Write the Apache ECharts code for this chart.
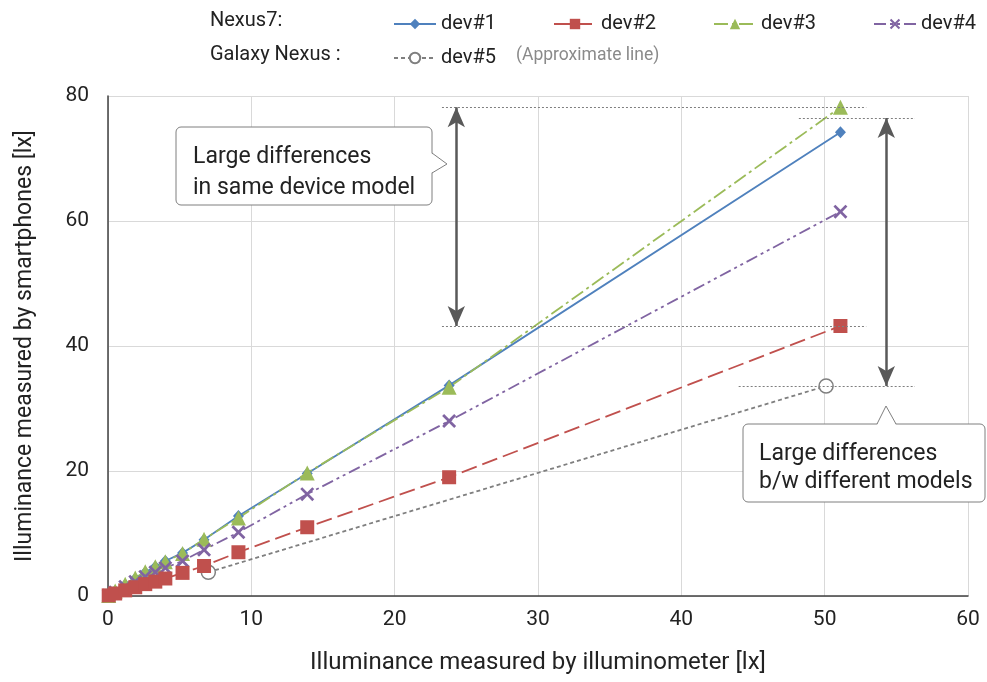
<!DOCTYPE html>
<html>
<head>
<meta charset="utf-8">
<script src="https://cdn.jsdelivr.net/npm/echarts@6/dist/echarts.min.js"></script>
<style>
  html, body { margin: 0; padding: 0; background: #fff; }
  #chart { width: 987px; height: 682px; }
</style>
</head>
<body>
<div id="chart"></div>
<script>
// Illuminometer readings [lx] shared by the Nexus7 units
const meterLux = [0.05, 0.5, 1.2, 1.9, 2.6, 3.3, 4.0, 5.2, 6.7, 9.1, 13.9, 23.8, 51.1];
// Readings reported by each Nexus7 unit [lx]
const dev1 = [0.1, 0.8, 1.8, 2.8, 3.8, 4.7, 5.6, 6.9, 9.0, 12.8, 19.6, 33.7, 74.2];
const dev2 = [0.1, 0.4, 0.9, 1.4, 1.9, 2.3, 2.8, 3.7, 4.8, 7.0, 11.0, 19.0, 43.2];
const dev3 = [0.1, 0.8, 1.9, 2.9, 3.9, 4.7, 5.5, 6.8, 9.1, 12.5, 19.7, 33.4, 78.2];
const dev4 = [0.1, 0.6, 1.5, 2.3, 3.1, 3.8, 4.5, 5.6, 7.4, 10.2, 16.3, 28.0, 61.5];
// Galaxy Nexus (approximate line)
const dev5Lux = [7.0, 50.1];
const dev5 = [3.8, 33.6];

const xTicks = { min: 0, max: 60, interval: 10 };
const yTicks = { min: 0, max: 80, interval: 20 };

const FONT = 'Roboto, "Noto Sans", sans-serif';
const pairs = (xs, ys) => xs.map((x, i) => [x, ys[i]]);

const COLORS = {
  dev1: '#4f81bd', dev2: '#c0504d', dev3: '#9bbb59', dev4: '#8064a2', dev5: '#7f7f7f'
};
const CROSS = 'path://M1.4,0 L5,3.6 L8.6,0 L10,1.4 L6.4,5 L10,8.6 L8.6,10 L5,6.4 L1.4,10 L0,8.6 L3.6,5 L0,1.4 Z';

const dotted = { color: '#7f7f7f', width: 1, type: [2, 2] };
const arrowStyle = { color: '#595959', width: 2.5, type: 'solid' };

const topSame = dev3[dev3.length - 1];
const lowSame = dev2[dev2.length - 1];
const lowModel = dev5[dev5.length - 1];
const topModel = 76.5;

function lineSeries(name, xs, ys, color, dash, symbol, size, extra) {
  return Object.assign({
    name: name,
    type: 'line',
    data: pairs(xs, ys),
    symbol: symbol,
    symbolSize: size,
    showAllSymbol: true,
    animation: false,
    lineStyle: { color: color, width: 1.8, type: dash },
    itemStyle: { color: color },
    emphasis: { disabled: true }
  }, extra || {});
}

const chart = echarts.init(document.getElementById('chart'), null, { renderer: 'canvas' });

chart.setOption({
  backgroundColor: '#fff',
  textStyle: { fontFamily: FONT },
  grid: { left: 108, right: 19, top: 96, bottom: 86 },
  legend: [
    {
      data: ['dev#1', 'dev#2', 'dev#3', 'dev#4'],
      left: 393, top: 14, padding: 0,
      itemWidth: 42, itemHeight: 13, itemGap: 57,
      textStyle: { fontSize: 20, color: '#222', fontFamily: FONT },
      selectedMode: false
    },
    {
      data: ['dev#5'],
      left: 393, top: 48, padding: 0,
      itemWidth: 42, itemHeight: 13,
      textStyle: { fontSize: 20, color: '#222', fontFamily: FONT },
      selectedMode: false
    }
  ],
  xAxis: {
    type: 'value',
    min: xTicks.min, max: xTicks.max, interval: xTicks.interval,
    name: 'Illuminance measured by illuminometer [lx]',
    nameLocation: 'middle', nameGap: 55,
    nameTextStyle: { fontSize: 24, color: '#222', fontFamily: FONT },
    axisLine: { lineStyle: { color: '#404040', width: 1.5 } },
    axisTick: { show: false },
    axisLabel: { fontSize: 21, color: '#222', margin: 13, fontFamily: FONT },
    splitLine: { show: true, lineStyle: { color: '#d9d9d9', width: 1 } }
  },
  yAxis: {
    type: 'value',
    min: yTicks.min, max: yTicks.max, interval: yTicks.interval,
    name: 'Illuminance measured by smartphones [lx]',
    nameLocation: 'middle', nameGap: 71,
    nameTextStyle: { fontSize: 23, color: '#222', fontFamily: FONT },
    axisLine: { show: true, lineStyle: { color: '#404040', width: 1.5 } },
    axisTick: { show: false },
    axisLabel: { fontSize: 21, color: '#222', margin: 19, fontFamily: FONT },
    splitLine: { show: true, lineStyle: { color: '#d9d9d9', width: 1 } }
  },
  series: [
    lineSeries('dev#5', dev5Lux, dev5, COLORS.dev5, [4, 3], 'circle', 14, {
      itemStyle: { color: '#fff', borderColor: COLORS.dev5, borderWidth: 1.5 },
      lineStyle: { color: COLORS.dev5, width: 1.8, type: [4, 3] }
    }),
    lineSeries('dev#1', meterLux, dev1, COLORS.dev1, 'solid', 'diamond', [11, 12]),
    lineSeries('dev#3', meterLux, dev3, COLORS.dev3, [14, 4, 3, 4], 'triangle', 15),
    lineSeries('dev#4', meterLux, dev4, COLORS.dev4, [12, 4, 3, 4, 3, 4], CROSS, 14),
    lineSeries('dev#2', meterLux, dev2, COLORS.dev2, [16, 6], 'rect', 14),
    {
      // guide lines and double-headed arrows for the annotations
      name: 'guides',
      type: 'line',
      data: [],
      animation: false,
      markLine: {
        silent: true,
        animation: false,
        label: { show: false },
        emphasis: { disabled: true },
        data: [
          [{ coord: [23.3, topSame], symbol: 'none', lineStyle: dotted }, { coord: [52.9, topSame], symbol: 'none' }],
          [{ coord: [23.3, lowSame], symbol: 'none', lineStyle: dotted }, { coord: [52.9, lowSame], symbol: 'none' }],
          [{ coord: [48.2, topModel], symbol: 'none', lineStyle: dotted }, { coord: [56.3, topModel], symbol: 'none' }],
          [{ coord: [44.0, lowModel], symbol: 'none', lineStyle: dotted }, { coord: [56.3, lowModel], symbol: 'none' }],
          [{ coord: [24.3, lowSame], symbol: 'arrow', symbolSize: [13, 20], lineStyle: arrowStyle },
           { coord: [24.3, topSame], symbol: 'arrow', symbolSize: [13, 20] }],
          [{ coord: [54.3, lowModel], symbol: 'arrow', symbolSize: [13, 20], lineStyle: arrowStyle },
           { coord: [54.3, topModel], symbol: 'arrow', symbolSize: [13, 20] }]
        ]
      }
    }
  ],
  graphic: [
    { type: 'text', left: 210, top: 11, style: { text: 'Nexus7:', font: '20px ' + FONT, fill: '#222' } },
    { type: 'text', left: 210, top: 45, style: { text: 'Galaxy Nexus :', font: '20px ' + FONT, fill: '#222' } },
    { type: 'text', left: 516, top: 47, style: { text: '(Approximate line)', font: '17.5px ' + FONT, fill: '#8a8a8a' } },

    // callout: same device model
    { type: 'rect', shape: { x: 176, y: 127, width: 256, height: 78, r: 5 },
      style: { fill: '#fff', stroke: '#7f7f7f', lineWidth: 1 }, z: 100 },
    { type: 'polygon', shape: { points: [[431, 153], [447, 164], [431, 173]] },
      style: { fill: '#fff', stroke: null }, z: 101 },
    { type: 'polyline', shape: { points: [[432, 153], [447, 164], [432, 173]] },
      style: { fill: null, stroke: '#7f7f7f', lineWidth: 1 }, z: 102 },
    { type: 'text', x: 193, y: 142, z: 103,
      style: { text: 'Large differences\nin same device model', font: '23px ' + FONT, fill: '#222', lineHeight: 31 } },

    // callout: different models
    { type: 'rect', shape: { x: 743, y: 424, width: 242, height: 78, r: 5 },
      style: { fill: '#fff', stroke: '#7f7f7f', lineWidth: 1 }, z: 100 },
    { type: 'polygon', shape: { points: [[877, 425], [886, 406], [896, 425]] },
      style: { fill: '#fff', stroke: null }, z: 101 },
    { type: 'polyline', shape: { points: [[877, 424], [886, 406], [896, 424]] },
      style: { fill: null, stroke: '#7f7f7f', lineWidth: 1 }, z: 102 },
    { type: 'text', x: 759, y: 440, z: 103,
      style: { text: 'Large differences\nb/w different models', font: '23px ' + FONT, fill: '#222', lineHeight: 28 } }
  ]
});
</script>
</body>
</html>
